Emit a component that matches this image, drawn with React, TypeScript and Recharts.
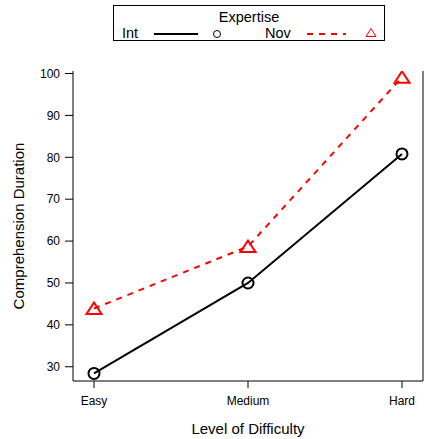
import React from "react";
import {
  LineChart,
  Line,
  XAxis,
  YAxis,
  Legend,
} from "recharts";

const levels = ["Easy", "Medium", "Hard"];
const intDuration = [28.4, 50.0, 80.8];
const novDuration = [43.9, 58.7, 99.1];
const yTicks = [30, 40, 50, 60, 70, 80, 90, 100];

const data = levels.map((level, i) => ({
  level,
  Int: intDuration[i],
  Nov: novDuration[i],
}));

const RED = "#ff0000";
const FONT = "'Liberation Sans', Arial, sans-serif";

const CircleDot = (props: any) => {
  const { cx, cy } = props;
  return <circle cx={cx} cy={cy} r={5.5} fill="none" stroke="#000" strokeWidth={2} />;
};

const TriangleDot = (props: any) => {
  const { cx, cy } = props;
  const w = 7.5;
  const h = 11;
  const pts = `${cx},${cy - h / 2 - 0.5} ${cx - w},${cy + h / 2} ${cx + w},${cy + h / 2}`;
  return <polygon points={pts} fill="none" stroke={RED} strokeWidth={2} />;
};

const ExpertiseKey = () => (
  <div style={{ width: 272, height: 36, border: "1px solid #000", boxSizing: "border-box", background: "#fff" }}>
    <svg width={270} height={34} style={{ display: "block", overflow: "visible" }}>
      <text x={135} y={16} textAnchor="middle" fontSize={14.5} fontFamily={FONT} fill="#000">
        Expertise
      </text>
      <text x={8} y={32} fontSize={14.5} fontFamily={FONT} fill="#000">Int</text>
      <line x1={40} x2={84} y1={28} y2={28} stroke="#000" strokeWidth={2} />
      <circle cx={103} cy={28} r={3.5} fill="none" stroke="#000" strokeWidth={1} />
      <text x={151} y={32} fontSize={14.5} fontFamily={FONT} fill="#000">Nov</text>
      <line x1={193} x2={232} y1={28} y2={28} stroke={RED} strokeWidth={2} strokeDasharray="6 6" />
      <polygon points="257,22.5 252,30.5 262,30.5" fill="none" stroke={RED} strokeWidth={1} />
    </svg>
  </div>
);

export default function App() {
  return (
    <div style={{ position: "absolute", left: 0, top: 0, fontFamily: FONT }}>
      <LineChart
        width={424}
        height={439}
        data={data}
        margin={{ top: 71, right: 0, left: 0, bottom: 0 }}
      >
        <XAxis
          dataKey="level"
          scale="point"
          padding={{ left: 21, right: 21 }}
          height={58}
          tickSize={7}
          tickMargin={8}
          stroke="#000"
          tick={{ fill: "#000", fontSize: 12, fontFamily: FONT }}
          label={{
            value: "Level of Difficulty",
            position: "insideBottom",
            offset: 5,
            fill: "#000",
            fontSize: 15,
            fontFamily: FONT,
          }}
        />
        <XAxis
          xAxisId="top"
          orientation="top"
          dataKey="level"
          scale="point"
          padding={{ left: 21, right: 21 }}
          height={0}
          tickSize={8}
          stroke="#000"
          tickFormatter={() => ""}
        />
        <YAxis
          domain={[26.6, 100.6]}
          ticks={yTicks}
          allowDataOverflow
          width={73}
          tickSize={8}
          tickMargin={5}
          stroke="#000"
          tick={{ fill: "#000", fontSize: 12, fontFamily: FONT }}
          label={{
            value: "Comprehension Duration",
            angle: -90,
            position: "insideLeft",
            offset: 19,
            style: { textAnchor: "middle" },
            fill: "#000",
            fontSize: 15,
            fontFamily: FONT,
          }}
        />
        <YAxis
          yAxisId="right"
          orientation="right"
          domain={[26.6, 100.6]}
          ticks={yTicks}
          width={1}
          tickLine={false}
          stroke="#000"
          tickFormatter={() => ""}
        />
        <Legend
          layout="vertical"
          align="center"
          verticalAlign="middle"
          wrapperStyle={{ top: 5, left: 113, width: 272, height: 36 }}
          content={() => <ExpertiseKey />}
        />
        <Line
          dataKey="Nov"
          stroke={RED}
          strokeWidth={2}
          strokeDasharray="6 6"
          dot={<TriangleDot />}
          activeDot={false}
          isAnimationActive={false}
        />
        <Line
          dataKey="Int"
          stroke="#000"
          strokeWidth={2}
          dot={<CircleDot />}
          activeDot={false}
          isAnimationActive={false}
        />
      </LineChart>
    </div>
  );
}
